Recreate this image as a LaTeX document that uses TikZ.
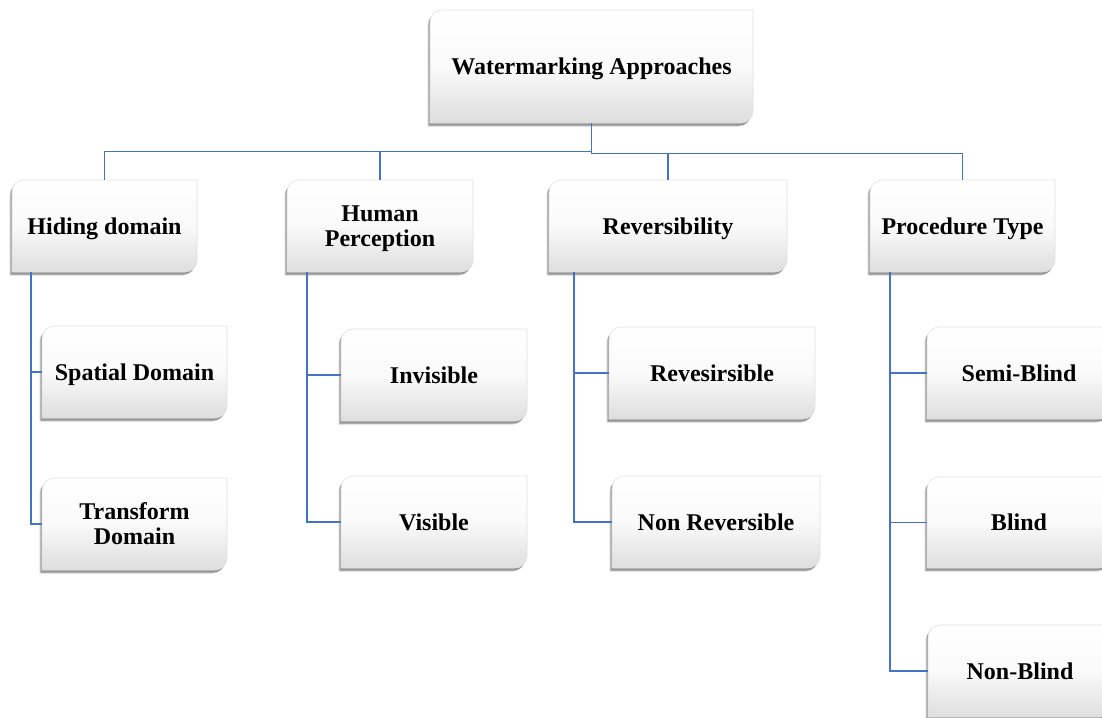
\documentclass[tikz,border=0pt]{standalone}
\usepackage{fontspec}
\setmainfont{Liberation Serif}
\usetikzlibrary{shadows,calc}
\definecolor{linkblue}{RGB}{68,114,196}
\tikzset{
  boxbg/.style={
    top color=white, bottom color=black!13, middle color=black!2,
    draw=black!12, line width=0.6pt,
    general shadow={fill=black, opacity=0.18, shadow xshift=-2.5pt, shadow yshift=-3.5pt},
    general shadow={fill=black, opacity=0.28, shadow xshift=-1.5pt, shadow yshift=-2.5pt}
  },
  boxtext/.style={inner sep=0pt, align=center,
    font=\fontsize{24}{25}\selectfont\bfseries},
  link/.style={draw=linkblue, line width=1.5pt}
}
% label set a little below the middle of its box, keeping the box size
\newcommand\lowtext[1]{\raisebox{-3pt}[\height][\depth]{\begin{tabular}{@{}c@{}}#1\end{tabular}}}
% box with rounded top-left and bottom-right corners: name, x0, y0, x1, y1, label
\newcommand\wbox[6]{%
  \path[boxbg] (#2,#5) -- (#2,#3+12)
    .. controls +(0,-6.6) and +(-6.6,0) .. (#2+12,#3) -- (#4,#3) -- (#4,#5-12)
    .. controls +(0,6.6) and +(6.6,0) .. (#4-12,#5) -- cycle;
  \node[boxtext, minimum width={#4pt-#2pt}, minimum height={#5pt-#3pt}]
    (#1) at ({(#2+#4)/2},{(#3+#5)/2}) {\lowtext{#6}};
}
\begin{document}
\begin{tikzpicture}[x=1pt,y=-1pt]
\clip (0,0) rectangle (1102,717);
\fill[white] (0,0) rectangle (1102,717);

% root and first level
\wbox{root}{430}{10}{753}{123}{Watermarking Approaches}
\wbox{hid}{12}{180}{197}{272}{Hiding domain}
\wbox{hum}{287}{180}{473}{272}{Human\\Perception}
\wbox{rev}{549}{180}{787}{272}{Reversibility}
\wbox{pro}{870}{180}{1055}{272}{Procedure Type}

% second level
\wbox{spa}{42}{326}{227}{418}{Spatial Domain}
\wbox{tra}{42}{478}{227}{570}{Transform\\Domain}
\wbox{inv}{341}{329}{527}{421}{Invisible}
\wbox{vis}{341}{476}{527}{568}{Visible}
\wbox{rvs}{609}{327}{815}{419}{Revesirsible}
\wbox{nrv}{612}{476}{820}{568}{Non Reversible}
\wbox{sem}{927}{327}{1111}{419}{Semi-Blind}
\wbox{bli}{927}{477}{1111}{568}{Blind}
\wbox{nbl}{928}{625}{1112}{717}{Non-Blind}

% bus lines under the root
\coordinate (busL) at (0,151.5);
\coordinate (busR) at (0,153.5);
\draw[link] (root.south) -- (root.south |- busL) -| (hid.north);
\draw[link] (root.south |- busL) -| (hum.north);
\draw[link] (root.south) -- (root.south |- busR) -| (rev.north);
\draw[link] (root.south |- busR) -| (pro.north);

% trunks down the left side of each group
\coordinate (hidT) at ([xshift=19pt]hid.south west);
\coordinate (humT) at ([xshift=20pt]hum.south west);
\coordinate (revT) at ([xshift=25pt]rev.south west);
\coordinate (proT) at ([xshift=20pt]pro.south west);
\draw[link] (hidT) |- (spa.west);
\draw[link] (hidT) |- (tra.west);
\draw[link] (humT) |- (inv.west);
\draw[link] (humT) |- (vis.west);
\draw[link] (revT) |- (rvs.west);
\draw[link] (revT) |- (nrv.west);
\draw[link] (proT) |- (sem.west);
\draw[link] (proT) |- (bli.west);
\draw[link] (proT) |- (nbl.west);
\end{tikzpicture}
\end{document}
